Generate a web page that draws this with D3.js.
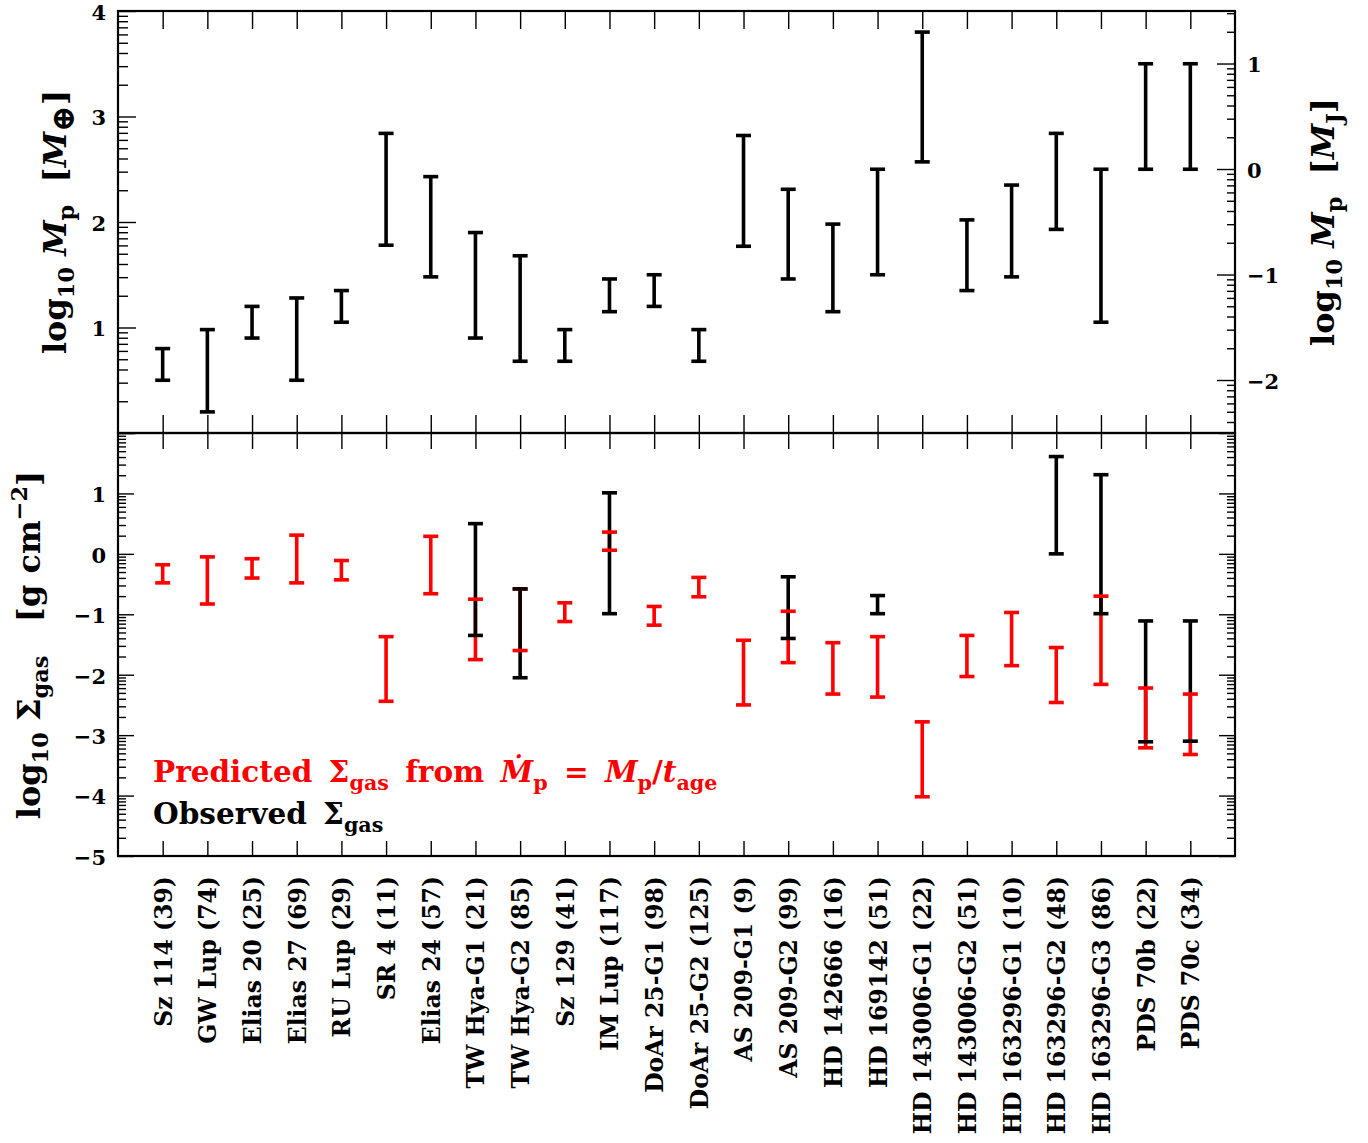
<!DOCTYPE html>
<html>
<head>
<meta charset="utf-8">
<script src="https://cdn.jsdelivr.net/npm/d3@7"></script>
<style>
  body { margin: 0; background: #fff; }
  text { font-family: "DejaVu Serif", serif; font-weight: bold; white-space: pre; }
</style>
</head>
<body>
<svg id="chart" width="1368" height="1143"></svg>
<script>
// planet names (x categories)
var names = ["Sz 114 (39)", "GW Lup (74)", "Elias 20 (25)", "Elias 27 (69)", "RU Lup (29)",
    "SR 4 (11)", "Elias 24 (57)", "TW Hya-G1 (21)", "TW Hya-G2 (85)", "Sz 129 (41)",
    "IM Lup (117)", "DoAr 25-G1 (98)", "DoAr 25-G2 (125)", "AS 209-G1 (9)", "AS 209-G2 (99)",
    "HD 142666 (16)", "HD 169142 (51)", "HD 143006-G1 (22)", "HD 143006-G2 (51)",
    "HD 163296-G1 (10)", "HD 163296-G2 (48)", "HD 163296-G3 (86)", "PDS 70b (22)", "PDS 70c (34)"];

// log10 Mp range, earth masses
var mpLo = [0.50, 0.20, 0.90, 0.50, 1.05, 1.78, 1.48, 0.90, 0.68, 0.68, 1.15, 1.20, 0.68, 1.77, 1.46,
    1.15, 1.50, 2.57, 1.35, 1.48, 1.93, 1.05, 2.50, 2.50];
var mpHi = [0.80, 0.98, 1.20, 1.28, 1.35, 2.84, 2.43, 1.90, 1.68, 0.98, 1.46, 1.50, 0.98, 2.82, 2.31,
    1.98, 2.50, 3.80, 2.02, 2.35, 2.84, 2.50, 3.50, 3.50];

// predicted log10 sigma_gas range
var predLo = [-0.48, -0.83, -0.40, -0.48, -0.43, -2.44, -0.66, -1.75, -1.60, -1.12, 0.06, -1.18, -0.71,
    -2.50, -1.80, -2.32, -2.37, -4.02, -2.03, -1.85, -2.46, -2.16, -3.21, -3.32];
var predHi = [-0.18, -0.05, -0.08, 0.31, -0.11, -1.37, 0.29, -0.75, -0.58, -0.81, 0.36, -0.87, -0.39,
    -1.43, -0.95, -1.47, -1.37, -2.78, -1.35, -0.97, -1.55, -0.70, -2.22, -2.32];

// observed log10 sigma_gas range (null = none)
var obsLo = [null, null, null, null, null, null, null, -1.35, -2.05, null, -0.99, null, null,
    null, -1.40, null, -0.99, null, null, null, 0.00, -0.99, -3.11, -3.10];
var obsHi = [null, null, null, null, null, null, null, 0.50, -0.58, null, 1.01, null, null,
    null, -0.38, null, -0.69, null, null, null, 1.61, 1.31, -1.11, -1.11];

// where the predicted bar is drawn over the observed one
var predictedOnTop = ["PDS 70b (22)", "PDS 70c (34)"];

// axis ticks
var topTicks = [1, 2, 3, 4];
var jupTicks = [-2, -1, 0, 1];
var botTicks = [-5, -4, -3, -2, -1, 0, 1];
var earthPerJupiter = 317.83;

var svg = d3.select("#chart");
var left = 118, right = 1235;
var topY0 = 11, midY = 433, botY1 = 856;

var x = d3.scalePoint().domain(names).range([left, right]).padding(1);
var yTop = d3.scaleLinear().domain([0, 4]).range([midY, topY0]);
var shiftJ = Math.log10(earthPerJupiter);
var yJup = d3.scaleLinear().domain([0 - shiftJ, 4 - shiftJ]).range([midY, topY0]);
var yBot = d3.scaleLinear().domain([-5, 2]).range([botY1, midY]);

//minor ticks at k + log10(m), like a log axis
function minorTicks(domain) {
    var out = [];
    for (var k = Math.floor(domain[0]) - 1; k <= Math.ceil(domain[1]); k++) {
        for (var m = 2; m <= 9; m++) {
            var v = k + Math.log10(m);
            if (v > domain[0] && v < domain[1]) out.push(v);
        }
    }
    return out;
}

function styleAxis(g) {
    g.select(".domain").remove();
    g.selectAll("line").attr("stroke", "#000").attr("stroke-width", 1.4);
    g.selectAll("text").attr("fill", "#000").attr("font-size", 21).attr("font-family", "DejaVu Serif")
        .attr("dy", "0.4em");
}

// draw a y axis (major + minor) on one side
function yAxis(scale, xpos, side, majors, labels, majorLen, minorLen) {
    var maker = side == "left" ? d3.axisLeft : d3.axisRight;
    var g = svg.append("g").attr("transform", "translate(" + xpos + ",0)");
    g.append("g")
        .call(maker(scale).tickValues(minorTicks(scale.domain())).tickSize(-minorLen).tickFormat(""))
        .call(styleAxis);
    g.append("g")
        .call(maker(scale).tickValues(majors).tickSize(-majorLen).tickPadding(12)
            .tickFormat(labels ? function(d) { return labels.indexOf(d) >= 0 ? d3.format("d")(d) : ""; } : ""))
        .call(styleAxis);
    return g;
}

// x ticks on horizontal edges
function xTicks(ypos, side, len) {
    var maker = side == "top" ? d3.axisTop : d3.axisBottom;
    return svg.append("g").attr("transform", "translate(0," + ypos + ")")
        .call(maker(x).tickSize(-len).tickFormat(""))
        .call(styleAxis);
}

// top panel axes
yAxis(yTop, left, "left", [0, 1, 2, 3, 4], topTicks, 18, 10);
yAxis(yJup, right, "right", jupTicks, jupTicks, 18, 8);
xTicks(topY0, "top", 18);
xTicks(midY, "bottom", 18);

// bottom panel axes
yAxis(yBot, left, "left", [-5, -4, -3, -2, -1, 0, 1, 2], botTicks, 16, 8);
yAxis(yBot, right, "right", [-5, -4, -3, -2, -1, 0, 1, 2], null, 16, 8);
xTicks(midY, "top", 16);
var xb = xTicks(botY1, "bottom", 15);
xb.selectAll(".tick text")
    .text(function(d) { return d; })
    .attr("transform", "rotate(-90)")
    .attr("x", -20)
    .attr("y", 0)
    .attr("dy", "0.36em")
    .attr("text-anchor", "end")
    .attr("font-size", 23.5);

// frames
[[topY0, midY], [midY, botY1]].forEach(function(p) {
    svg.append("rect")
        .attr("x", left).attr("y", p[0])
        .attr("width", right - left).attr("height", p[1] - p[0])
        .attr("fill", "none").attr("stroke", "#000").attr("stroke-width", 2.2);
});

// error bars
var capHalf = 7.5, lw = 3.6;
var topBars = names.map(function(n, i) { return {name: n, lo: mpLo[i], hi: mpHi[i], color: "#000", z: 0}; });
var botBars = [];
names.forEach(function(n, i) {
    var redZ = predictedOnTop.indexOf(n) >= 0 ? 2 : 0;
    botBars.push({name: n, lo: predLo[i], hi: predHi[i], color: "#ff0000", z: redZ});
    if (obsLo[i] != null) botBars.push({name: n, lo: obsLo[i], hi: obsHi[i], color: "#000", z: 1});
});
botBars.sort(function(a, b) { return a.z - b.z; });

function drawBars(bars, y) {
    var g = svg.append("g");
    g.selectAll("line.bar")
        .data(bars)
        .enter().append("line")
        .attr("class", "bar")
        .attr("x1", function(d) { return x(d.name); })
        .attr("x2", function(d) { return x(d.name); })
        .attr("y1", function(d) { return y(d.lo); })
        .attr("y2", function(d) { return y(d.hi); })
        .attr("stroke", function(d) { return d.color; })
        .attr("stroke-width", lw);
    var caps = [];
    bars.forEach(function(d) { caps.push({name: d.name, v: d.lo, color: d.color}); caps.push({name: d.name, v: d.hi, color: d.color}); });
    g.selectAll("line.cap")
        .data(caps)
        .enter().append("line")
        .attr("class", "cap")
        .attr("x1", function(d) { return x(d.name) - capHalf; })
        .attr("x2", function(d) { return x(d.name) + capHalf; })
        .attr("y1", function(d) { return y(d.v); })
        .attr("y2", function(d) { return y(d.v); })
        .attr("stroke", function(d) { return d.color; })
        .attr("stroke-width", lw);
}
drawBars(topBars, yTop);
drawBars(botBars, yBot);

// math-ish text with sub/superscripts
function mathText(t, parts, fs) {
    var cur = 0;
    parts.forEach(function(p) {
        var target = p.sub ? fs * 0.26 : (p.sup ? -fs * 0.42 : 0);
        var size = (p.sub || p.sup) ? fs * (p.size || 0.7) : fs;
        t.append("tspan")
            .attr("dy", target - cur)
            .attr("font-size", size)
            .attr("font-style", p.it ? "italic" : "normal")
            .text(p.t);
        cur = target;
    });
}

function title(cx, cy, parts, fs) {
    var t = svg.append("text")
        .attr("transform", "translate(" + cx + "," + cy + ") rotate(-90)")
        .attr("text-anchor", "middle")
        .attr("fill", "#000");
    mathText(t, parts, fs);
}

title(66, 222, [{t: "log"}, {t: "10", sub: true}, {t: " "}, {t: "M", it: true}, {t: "p", sub: true},
    {t: "  ["}, {t: "M", it: true}, {t: "⊕", sub: true, size: 1.0}, {t: "]"}], 32);
title(1334, 222, [{t: "log"}, {t: "10", sub: true}, {t: " "}, {t: "M", it: true}, {t: "p", sub: true},
    {t: "  ["}, {t: "M", it: true}, {t: "J", sub: true}, {t: "]"}], 32);
title(40, 645, [{t: "log"}, {t: "10", sub: true}, {t: " Σ"}, {t: "gas", sub: true},
    {t: "   [g cm"}, {t: "−2", sup: true}, {t: "]"}], 32);

// legend text
var leg1 = svg.append("text").attr("x", 153).attr("y", 782).attr("fill", "#ff0000")
    .attr("word-spacing", 6);
mathText(leg1, [{t: "Predicted Σ"}, {t: "gas", sub: true}, {t: " from "}, {t: "M\u0307", it: true},
    {t: "p", sub: true}, {t: " = "}, {t: "M", it: true}, {t: "p", sub: true}, {t: "/"}, {t: "t", it: true},
    {t: "age", sub: true}], 29.5);
var leg2 = svg.append("text").attr("x", 153).attr("y", 824).attr("fill", "#000")
    .attr("word-spacing", 6);
mathText(leg2, [{t: "Observed Σ"}, {t: "gas", sub: true}], 29.5);
</script>
</body>
</html>
